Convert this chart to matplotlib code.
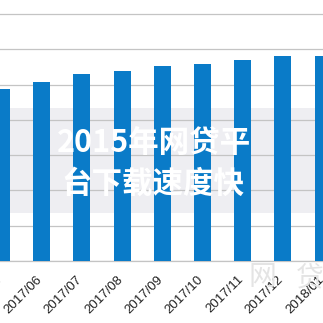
import matplotlib
matplotlib.use("Agg")
import matplotlib.pyplot as plt
import matplotlib.transforms as mtransforms

months = ["2017/05", "2017/06", "2017/07", "2017/08", "2017/09",
          "2017/10", "2017/11", "2017/12", "2018/01"]
values = [48.7, 50.7, 53.0, 53.8, 55.3, 55.8, 57.0, 58.1, 58.1]
overlay_lines = ["2015年网贷平", "台下载速度快"]

plt.rcParams['font.family'] = ['Liberation Sans', 'DejaVu Sans']

fig = plt.figure(figsize=(3.23, 3.23), dpi=100)
ax = fig.add_axes([0.0, 62 / 323, 1.0, 1 - 62 / 323])
ax.set_facecolor('white')

x = list(range(len(months)))
ax.bar(x, values, width=0.42, color='#0A7BC8', zorder=3)

ax.set_xlim(-1.5 / 40.2, (323 - 1.5) / 40.2)
ax.set_ylim(0, 261 / 35.29 * 10)

# gray band behind the bars
ax.axhspan((261 - 213) / 35.29 * 10, (261 - 108) / 35.29 * 10,
           color='#EEEEF2', zorder=0, lw=0)

ax.set_yticks(range(0, 80, 10))
ax.yaxis.grid(True, color='#C4C4C4', lw=0.9, zorder=1)
ax.set_axisbelow(False)
ax.tick_params(axis='y', left=False, labelleft=False)
for s in ['left', 'right', 'top']:
    ax.spines[s].set_visible(False)
ax.spines['bottom'].set_color('#C4C4C4')
ax.spines['bottom'].set_linewidth(0.9)

ax.set_xticks(x)
ax.set_xticklabels(months, rotation=45, ha='right', va='top',
                   fontsize=9.5, color='#222222')
ax.tick_params(axis='x', length=0, pad=9)
offset = mtransforms.ScaledTranslation(3 / 100, 0, fig.dpi_scale_trans)
for lbl in ax.get_xticklabels():
    lbl.set_transform(lbl.get_transform() + offset)

# watermark lower right
fig.text(262 / 323, 1 - 277 / 323, "网", fontsize=20, color='#E4E4E4',
         ha='center', va='center', family=['Noto Sans CJK SC'], zorder=0)
fig.text(310 / 323, 1 - 277 / 323, "贷", fontsize=20, color='#E4E4E4',
         ha='center', va='center', family=['Noto Sans CJK SC'], zorder=0)

# overlay title text
fig.text(154 / 323, 1 - 143 / 323, overlay_lines[0], fontsize=22,
         color='white', fontweight='black', ha='center', va='center',
         family=['Noto Sans CJK SC', 'DejaVu Sans'], zorder=10)
fig.text(153 / 323, 1 - 184 / 323, overlay_lines[1], fontsize=22,
         color='white', fontweight='black', ha='center', va='center',
         family=['Noto Sans CJK SC', 'DejaVu Sans'], zorder=10)

fig.savefig("out.png", dpi=100)
